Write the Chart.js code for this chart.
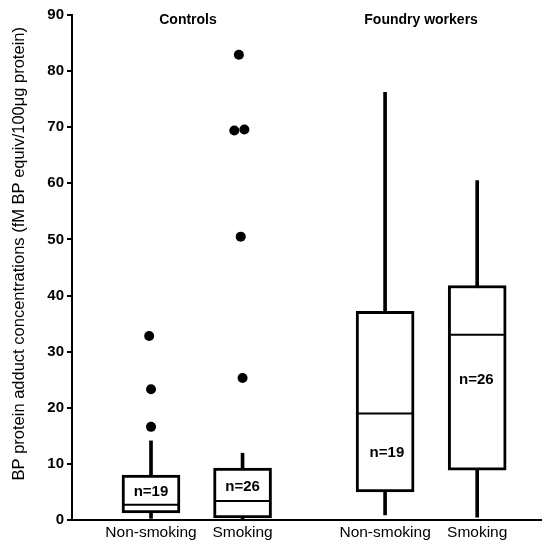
<!DOCTYPE html>
<html>
<head>
<meta charset="utf-8">
<script src="https://cdn.jsdelivr.net/npm/chart.js@4/dist/chart.umd.min.js"></script>
<style>
  html, body { margin: 0; padding: 0; background: #fff; }
  #wrap { width: 543px; height: 541px; }
</style>
</head>
<body>
<div id="wrap"><canvas id="c" width="543" height="541"></canvas></div>
<script>
// ---- data ----
const categories   = ['Non-smoking', 'Smoking', 'Non-smoking', 'Smoking'];
const groupNames   = ['Controls', 'Foundry workers'];
const sampleLabels = ['n=19', 'n=26', 'n=19', 'n=26'];
const whiskerLow   = [0.3, 0.2, 0.9, 0.5];
const quartile1    = [1.25, 0.35, 5.0, 8.9];
const medians      = [2.7, 3.4, 19.0, 33.0];
const quartile3    = [8.0, 9.25, 37.2, 41.8];
const whiskerHigh  = [14.1, 11.9, 76.2, 60.5];
// outliers: category index and value
const outlierCat   = [0, 0, 0, 1, 1, 1, 1, 1];
const outlierVal   = [32.8, 23.3, 16.6, 82.9, 69.4, 69.6, 50.5, 25.3];
const yTicks       = [0, 10, 20, 30, 40, 50, 60, 70, 80, 90];
const yTitle       = 'BP protein adduct concentrations (fM BP equiv/100\u03bcg protein)';

// ---- layout (positions on the linear x scale) ----
const catPos       = [1, 2, 3.557, 4.563];
const outlierShift = [-0.02, 0.0, 0.0, -0.04, -0.09, 0.02, -0.02, 0.0];
const groupPos     = [1.404, 3.95];
const groupLabelY  = 89;
const nLabelY      = [5.0, 5.9, 12.0, 24.9];
const nLabelShift  = [0, 0, 0.02, -0.01];

const FONT = "'Liberation Sans', Arial, Helvetica, sans-serif";

const textPlugin = {
  id: 'textPlugin',
  afterDatasetsDraw(chart) {
    const ctx = chart.ctx, xs = chart.scales.x, ys = chart.scales.y;
    ctx.save();
    ctx.fillStyle = '#000';
    ctx.textAlign = 'center';
    ctx.textBaseline = 'middle';
    ctx.font = 'bold 15px ' + FONT;
    sampleLabels.forEach((t, i) => {
      ctx.fillText(t, xs.getPixelForValue(catPos[i] + nLabelShift[i]), ys.getPixelForValue(nLabelY[i]));
    });
    ctx.font = 'bold 14px ' + FONT;
    groupNames.forEach((t, i) => {
      ctx.fillText(t, xs.getPixelForValue(groupPos[i]), ys.getPixelForValue(groupLabelY));
    });
    ctx.restore();
  }
};

new Chart(document.getElementById('c'), {
  type: 'bar',
  data: {
    datasets: [
      {
        label: 'whiskers',
        data: catPos.map((x, i) => ({ x: x, y: [whiskerLow[i], whiskerHigh[i]] })),
        backgroundColor: '#000',
        borderWidth: 0,
        barThickness: 3,
        grouped: false,
        order: 3
      },
      {
        label: 'boxes',
        data: catPos.map((x, i) => ({ x: x, y: [quartile1[i], quartile3[i]] })),
        backgroundColor: '#fff',
        borderColor: '#000',
        borderWidth: 3,
        borderSkipped: false,
        barThickness: 58,
        grouped: false,
        order: 2
      },
      {
        type: 'scatter',
        label: 'medians',
        data: catPos.map((x, i) => ({ x: x, y: medians[i] })),
        pointStyle: 'line',
        radius: 27,
        borderColor: '#000',
        borderWidth: 2,
        order: 1
      },
      {
        type: 'scatter',
        label: 'outliers',
        data: outlierVal.map((v, i) => ({ x: catPos[outlierCat[i]] + outlierShift[i], y: v })),
        pointStyle: 'circle',
        radius: 5,
        backgroundColor: '#000',
        borderColor: '#000',
        borderWidth: 0,
        order: 0
      }
    ]
  },
  options: {
    responsive: false,
    animation: false,
    events: [],
    layout: { autoPadding: false, padding: { top: 15, right: 2, bottom: 0, left: 0 } },
    plugins: { legend: { display: false }, tooltip: { enabled: false } },
    scales: {
      x: {
        type: 'linear',
        offset: false,
        min: 0.137,
        max: 5.26,
        afterFit(scale) {
          scale.height = 21;
          scale.paddingLeft = 0; scale.paddingRight = 0;
          scale.paddingTop = 0; scale.paddingBottom = 0;
        },
        afterBuildTicks(scale) { scale.ticks = catPos.map(v => ({ value: v })); },
        ticks: {
          autoSkip: false,
          maxRotation: 0,
          padding: 3,
          color: '#000',
          font: { family: FONT, size: 15.5 },
          callback(value, index) { return categories[index]; }
        },
        grid: { display: true, drawOnChartArea: false, drawTicks: false, color: 'rgba(0,0,0,0)' },
        border: { display: true, color: '#000', width: 2 }
      },
      y: {
        type: 'linear',
        min: 0,
        max: 90,
        afterFit(scale) {
          scale.width = 72;
          scale.paddingLeft = 0; scale.paddingRight = 0;
          scale.paddingTop = 0; scale.paddingBottom = 0;
        },
        afterBuildTicks(scale) { scale.ticks = yTicks.map(v => ({ value: v })); },
        ticks: {
          padding: 3,
          color: '#000',
          font: { family: FONT, size: 15, weight: 'bold' }
        },
        grid: { display: true, drawOnChartArea: false, drawTicks: true, tickLength: 5, color: '#000', lineWidth: 2 },
        border: { display: true, color: '#000', width: 2 },
        title: {
          display: true,
          text: '      ' + yTitle,
          color: '#000',
          font: { family: FONT, size: 16.5 },
          padding: 10
        }
      }
    }
  },
  plugins: [textPlugin]
});
</script>
</body>
</html>
